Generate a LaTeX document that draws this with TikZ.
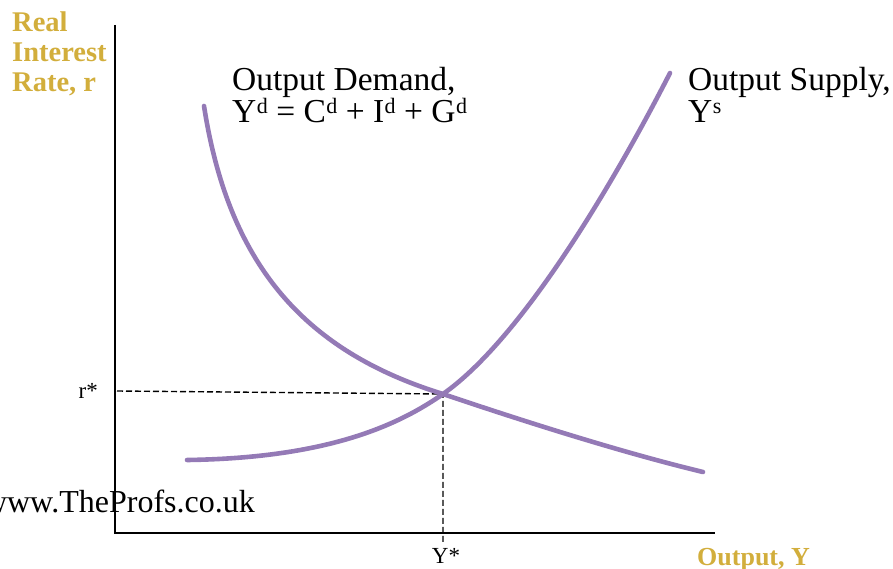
\documentclass[tikz,border=0pt]{standalone}
\usepackage{fontspec}
\setmainfont{Liberation Serif}
\usepackage{xcolor}
\usepackage{tikz}
\definecolor{curvepurple}{RGB}{148,122,182}
\definecolor{axisgold}{RGB}{210,174,60}
\pgfdeclarelayer{nodelayer}
\pgfdeclarelayer{edgelayer}
\pgfsetlayers{nodelayer, edgelayer, main}
\newcommand{\supr}[1]{\raisebox{0.27em}{\fontsize{22}{22}\selectfont\kern0.5pt #1}}
\tikzset{
    curve/.style={line width=4.6pt, curvepurple, line cap=round},
    axisline/.style={line width=2pt, black},
    guide/.style={black, line width=1.4pt, dash pattern=on 6pt off 3pt},
    goldlabel/.style={text=axisgold, font=\fontsize{28.5}{30}\selectfont\bfseries, inner sep=0pt,
        text height=20pt, text depth=6pt},
    curvelabel/.style={font=\fontsize{33.5}{36}\selectfont, inner sep=0pt,
        text height=23pt, text depth=7pt},
    starlabel/.style={font=\fontsize{23}{26}\selectfont, inner sep=0pt}
}

\begin{document}
\begin{tikzpicture} [x=1pt, y=-1pt]
    \useasboundingbox (0,0) rectangle (893,569);
	\begin{pgfonlayer}{nodelayer}
        % axis titles
        \node[goldlabel, anchor=base west] (rlab1) at (12,32) {Real};
        \node[goldlabel, anchor=base west] (rlab2) at (12,62) {Interest};
        \node[goldlabel, anchor=base west] (rlab3) at (12,92) {Rate, r};
        \node[goldlabel, font=\fontsize{26}{30}\selectfont\bfseries, anchor=base west] (ylab) at (697,565) {Output, Y};
        % curve names
        \node[curvelabel, anchor=base west] (dlab1) at (232,91) {Output Demand,};
        \node[curvelabel, anchor=base west] (dlab2) at (232,123) {Y\supr{d} = C\supr{d} + I\supr{d} + G\supr{d}};
        \node[curvelabel, anchor=base west] (slab1) at (688,91) {Output Supply,};
        \node[curvelabel, anchor=base west] (slab2) at (688,123) {Y\supr{s}};
        % equilibrium values
        \node[starlabel, anchor=base east] (rstar) at (98,398) {r*};
        \node[starlabel, anchor=base] (ystar) at (446,563) {Y*};
        \node[curvelabel, font=\fontsize{32}{36}\selectfont, anchor=base east] (site) at (255,512) {www.TheProfs.co.uk};
	\end{pgfonlayer}
	\begin{pgfonlayer}{edgelayer}
        \coordinate (top) at (115,25);
        \coordinate (origin) at (115,533);
        \coordinate (right) at (715,533);
        \coordinate (eq) at (443,394);
        \coordinate (req) at (117,391);
        \coordinate (yeq) at (443,542);
        \draw[axisline] (top) -- (origin) -- (right);
        \draw[guide] (req) -- (eq) -- (yeq);
	\end{pgfonlayer}
    \coordinate (dstart) at (204,106);
    \coordinate (dend) at (703,472);
    \coordinate (sstart) at (187,460);
    \coordinate (send) at (670,73);
    \draw[curve] (dstart) .. controls (228,260) and (300,350) .. (eq)
        .. controls (520,420) and (620,452) .. (dend);
    \draw[curve] (sstart) .. controls (330,458) and (400,424) .. (eq)
        .. controls (520,340) and (610,190) .. (send);
    \end{tikzpicture}
\end{document}
